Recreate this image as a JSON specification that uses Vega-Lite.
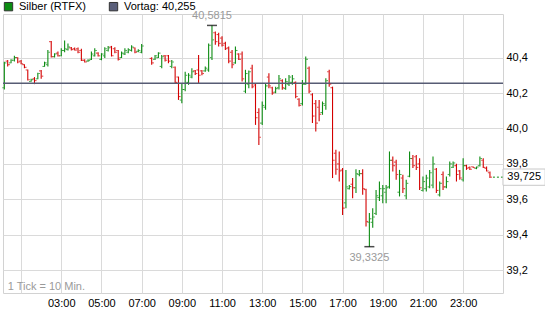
{
  "$schema": "https://vega.github.io/schema/vega-lite/v6.json",
  "width": 500,
  "height": 279,
  "autosize": "none",
  "padding": {"left": 3, "top": 14, "right": 42, "bottom": 34},
  "background": "white",
  "config": {
    "font": "Liberation Sans",
    "view": {"stroke": "#d2d2d2"},
    "axis": {"labelFont": "Liberation Sans", "labelFontSize": 11, "labelColor": "#000000", "gridColor": "#dadada", "gridWidth": 1, "domain": false, "ticks": false}
  },
  "datasets": {
    "bars": [
      {"t":10,"o":40.23,"h":40.377,"l":40.22,"c":40.37},
      {"t":20,"o":40.38,"h":40.387,"l":40.349,"c":40.36},
      {"t":30,"o":40.37,"h":40.39,"l":40.368,"c":40.385},
      {"t":40,"o":40.385,"h":40.41,"l":40.378,"c":40.40},
      {"t":50,"o":40.40,"h":40.402,"l":40.368,"c":40.375},
      {"t":60,"o":40.38,"h":40.387,"l":40.362,"c":40.365},
      {"t":70,"o":40.36,"h":40.362,"l":40.34,"c":40.345},
      {"t":80,"o":40.33,"h":40.332,"l":40.27,"c":40.275},
      {"t":90,"o":40.265,"h":40.28,"l":40.263,"c":40.275},
      {"t":100,"o":40.28,"h":40.29,"l":40.25,"c":40.27},
      {"t":110,"o":40.28,"h":40.315,"l":40.278,"c":40.31},
      {"t":120,"o":40.325,"h":40.33,"l":40.28,"c":40.295},
      {"t":130,"o":40.35,"h":40.377,"l":40.348,"c":40.37},
      {"t":140,"o":40.36,"h":40.443,"l":40.35,"c":40.43},
      {"t":150,"o":40.49,"h":40.494,"l":40.40,"c":40.405},
      {"t":160,"o":40.405,"h":40.425,"l":40.40,"c":40.42},
      {"t":170,"o":40.425,"h":40.434,"l":40.406,"c":40.41},
      {"t":180,"o":40.41,"h":40.453,"l":40.408,"c":40.44},
      {"t":190,"o":40.44,"h":40.496,"l":40.43,"c":40.45},
      {"t":200,"o":40.445,"h":40.48,"l":40.44,"c":40.46},
      {"t":210,"o":40.455,"h":40.46,"l":40.44,"c":40.445},
      {"t":220,"o":40.45,"h":40.457,"l":40.44,"c":40.442},
      {"t":230,"o":40.45,"h":40.457,"l":40.425,"c":40.43},
      {"t":240,"o":40.44,"h":40.45,"l":40.38,"c":40.385},
      {"t":250,"o":40.385,"h":40.39,"l":40.372,"c":40.375},
      {"t":260,"o":40.38,"h":40.39,"l":40.376,"c":40.383},
      {"t":270,"o":40.39,"h":40.434,"l":40.387,"c":40.42},
      {"t":280,"o":40.41,"h":40.453,"l":40.406,"c":40.44},
      {"t":290,"o":40.425,"h":40.43,"l":40.406,"c":40.41},
      {"t":300,"o":40.39,"h":40.425,"l":40.385,"c":40.42},
      {"t":310,"o":40.41,"h":40.459,"l":40.397,"c":40.45},
      {"t":320,"o":40.44,"h":40.466,"l":40.434,"c":40.455},
      {"t":330,"o":40.46,"h":40.466,"l":40.406,"c":40.41},
      {"t":340,"o":40.45,"h":40.459,"l":40.425,"c":40.43},
      {"t":350,"o":40.44,"h":40.443,"l":40.383,"c":40.39},
      {"t":360,"o":40.40,"h":40.434,"l":40.397,"c":40.425},
      {"t":370,"o":40.42,"h":40.453,"l":40.415,"c":40.44},
      {"t":380,"o":40.43,"h":40.453,"l":40.425,"c":40.445},
      {"t":390,"o":40.44,"h":40.47,"l":40.434,"c":40.46},
      {"t":400,"o":40.455,"h":40.457,"l":40.425,"c":40.43},
      {"t":410,"o":40.435,"h":40.447,"l":40.43,"c":40.44},
      {"t":420,"o":40.43,"h":40.477,"l":40.425,"c":40.465},
      {"t":450,"o":40.395,"h":40.402,"l":40.359,"c":40.37},
      {"t":460,"o":40.39,"h":40.415,"l":40.387,"c":40.41},
      {"t":470,"o":40.40,"h":40.43,"l":40.397,"c":40.425},
      {"t":480,"o":40.35,"h":40.415,"l":40.34,"c":40.405},
      {"t":490,"o":40.41,"h":40.415,"l":40.378,"c":40.385},
      {"t":500,"o":40.41,"h":40.415,"l":40.368,"c":40.38},
      {"t":510,"o":40.35,"h":40.387,"l":40.34,"c":40.375},
      {"t":520,"o":40.345,"h":40.349,"l":40.255,"c":40.26},
      {"t":530,"o":40.29,"h":40.293,"l":40.161,"c":40.18},
      {"t":540,"o":40.16,"h":40.255,"l":40.142,"c":40.22},
      {"t":550,"o":40.22,"h":40.32,"l":40.21,"c":40.30},
      {"t":560,"o":40.26,"h":40.312,"l":40.246,"c":40.30},
      {"t":570,"o":40.29,"h":40.34,"l":40.283,"c":40.32},
      {"t":580,"o":40.325,"h":40.33,"l":40.302,"c":40.31},
      {"t":590,"o":40.33,"h":40.415,"l":40.255,"c":40.30},
      {"t":600,"o":40.325,"h":40.33,"l":40.30,"c":40.31},
      {"t":610,"o":40.325,"h":40.349,"l":40.32,"c":40.34},
      {"t":620,"o":40.33,"h":40.48,"l":40.32,"c":40.47},
      {"t":630,"o":40.40,"h":40.5815,"l":40.387,"c":40.50},
      {"t":640,"o":40.54,"h":40.547,"l":40.472,"c":40.49},
      {"t":650,"o":40.53,"h":40.54,"l":40.462,"c":40.48},
      {"t":660,"o":40.51,"h":40.52,"l":40.462,"c":40.47},
      {"t":670,"o":40.48,"h":40.49,"l":40.443,"c":40.45},
      {"t":680,"o":40.455,"h":40.462,"l":40.368,"c":40.38},
      {"t":690,"o":40.43,"h":40.443,"l":40.34,"c":40.36},
      {"t":700,"o":40.37,"h":40.462,"l":40.365,"c":40.44},
      {"t":710,"o":40.42,"h":40.425,"l":40.387,"c":40.39},
      {"t":720,"o":40.42,"h":40.434,"l":40.265,"c":40.28},
      {"t":730,"o":40.21,"h":40.331,"l":40.199,"c":40.31},
      {"t":740,"o":40.25,"h":40.327,"l":40.227,"c":40.32},
      {"t":750,"o":40.34,"h":40.359,"l":40.227,"c":40.235},
      {"t":760,"o":40.245,"h":40.255,"l":40.02,"c":40.06},
      {"t":770,"o":40.09,"h":40.114,"l":39.907,"c":39.95},
      {"t":780,"o":40.03,"h":40.152,"l":40.02,"c":40.13},
      {"t":790,"o":40.12,"h":40.255,"l":40.105,"c":40.24},
      {"t":800,"o":40.29,"h":40.312,"l":40.227,"c":40.24},
      {"t":810,"o":40.23,"h":40.236,"l":40.19,"c":40.20},
      {"t":820,"o":40.205,"h":40.236,"l":40.199,"c":40.225},
      {"t":830,"o":40.23,"h":40.302,"l":40.22,"c":40.28},
      {"t":840,"o":40.27,"h":40.278,"l":40.218,"c":40.23},
      {"t":850,"o":40.225,"h":40.284,"l":40.218,"c":40.265},
      {"t":860,"o":40.25,"h":40.302,"l":40.24,"c":40.29},
      {"t":870,"o":40.26,"h":40.302,"l":40.246,"c":40.28},
      {"t":880,"o":40.26,"h":40.265,"l":40.171,"c":40.18},
      {"t":890,"o":40.165,"h":40.171,"l":40.124,"c":40.13},
      {"t":900,"o":40.14,"h":40.274,"l":40.13,"c":40.25},
      {"t":910,"o":40.25,"h":40.406,"l":40.246,"c":40.39},
      {"t":920,"o":40.34,"h":40.35,"l":40.199,"c":40.21},
      {"t":930,"o":40.19,"h":40.199,"l":40.03,"c":40.07},
      {"t":940,"o":40.14,"h":40.161,"l":39.983,"c":40.03},
      {"t":950,"o":40.12,"h":40.161,"l":40.04,"c":40.08},
      {"t":960,"o":40.09,"h":40.152,"l":40.077,"c":40.14},
      {"t":970,"o":40.13,"h":40.284,"l":40.105,"c":40.27},
      {"t":980,"o":40.32,"h":40.331,"l":40.236,"c":40.25},
      {"t":990,"o":40.23,"h":40.236,"l":39.72,"c":39.82},
      {"t":1000,"o":39.86,"h":39.879,"l":39.738,"c":39.77},
      {"t":1010,"o":39.80,"h":39.87,"l":39.70,"c":39.76},
      {"t":1020,"o":39.765,"h":39.776,"l":39.512,"c":39.55},
      {"t":1030,"o":39.58,"h":39.766,"l":39.55,"c":39.67},
      {"t":1040,"o":39.66,"h":39.68,"l":39.655,"c":39.672},
      {"t":1050,"o":39.685,"h":39.72,"l":39.606,"c":39.665},
      {"t":1060,"o":39.665,"h":39.77,"l":39.635,"c":39.745},
      {"t":1070,"o":39.74,"h":39.766,"l":39.73,"c":39.745},
      {"t":1080,"o":39.745,"h":39.77,"l":39.625,"c":39.66},
      {"t":1090,"o":39.655,"h":39.66,"l":39.447,"c":39.475},
      {"t":1100,"o":39.47,"h":39.522,"l":39.3325,"c":39.49},
      {"t":1110,"o":39.47,"h":39.55,"l":39.44,"c":39.50},
      {"t":1120,"o":39.52,"h":39.653,"l":39.512,"c":39.62},
      {"t":1130,"o":39.61,"h":39.70,"l":39.59,"c":39.66},
      {"t":1140,"o":39.62,"h":39.68,"l":39.578,"c":39.66},
      {"t":1150,"o":39.64,"h":39.68,"l":39.578,"c":39.665},
      {"t":1160,"o":39.67,"h":39.87,"l":39.66,"c":39.82},
      {"t":1170,"o":39.82,"h":39.842,"l":39.757,"c":39.79},
      {"t":1180,"o":39.81,"h":39.823,"l":39.71,"c":39.74},
      {"t":1190,"o":39.64,"h":39.766,"l":39.616,"c":39.74},
      {"t":1200,"o":39.72,"h":39.738,"l":39.635,"c":39.66},
      {"t":1210,"o":39.62,"h":39.71,"l":39.60,"c":39.69},
      {"t":1220,"o":39.73,"h":39.87,"l":39.725,"c":39.83},
      {"t":1230,"o":39.83,"h":39.85,"l":39.776,"c":39.79},
      {"t":1240,"o":39.84,"h":39.85,"l":39.766,"c":39.78},
      {"t":1250,"o":39.80,"h":39.832,"l":39.653,"c":39.665},
      {"t":1260,"o":39.65,"h":39.729,"l":39.644,"c":39.70},
      {"t":1270,"o":39.66,"h":39.738,"l":39.644,"c":39.72},
      {"t":1280,"o":39.67,"h":39.766,"l":39.663,"c":39.75},
      {"t":1290,"o":39.68,"h":39.842,"l":39.663,"c":39.80},
      {"t":1300,"o":39.77,"h":39.776,"l":39.635,"c":39.65},
      {"t":1310,"o":39.625,"h":39.70,"l":39.616,"c":39.69},
      {"t":1320,"o":39.74,"h":39.757,"l":39.653,"c":39.67},
      {"t":1330,"o":39.67,"h":39.729,"l":39.663,"c":39.70},
      {"t":1340,"o":39.74,"h":39.813,"l":39.729,"c":39.80},
      {"t":1350,"o":39.78,"h":39.813,"l":39.776,"c":39.805},
      {"t":1360,"o":39.79,"h":39.80,"l":39.70,"c":39.74},
      {"t":1370,"o":39.76,"h":39.766,"l":39.71,"c":39.72},
      {"t":1380,"o":39.71,"h":39.832,"l":39.70,"c":39.79},
      {"t":1390,"o":39.79,"h":39.795,"l":39.766,"c":39.775},
      {"t":1400,"o":39.78,"h":39.785,"l":39.766,"c":39.77},
      {"t":1410,"o":39.784,"h":39.785,"l":39.776,"c":39.778},
      {"t":1420,"o":39.775,"h":39.785,"l":39.77,"c":39.782},
      {"t":1430,"o":39.79,"h":39.842,"l":39.785,"c":39.83},
      {"t":1440,"o":39.82,"h":39.832,"l":39.776,"c":39.78},
      {"t":1450,"o":39.775,"h":39.785,"l":39.757,"c":39.76},
      {"t":1460,"o":39.75,"h":39.757,"l":39.72,"c":39.725}
    ],
    "ext": [
      {"kind": "max", "t": 630, "v": 40.5815, "label": "40,5815"},
      {"kind": "min", "t": 1100, "v": 39.3325, "label": "39,3325"}
    ],
    "last": [
      {"t": 1460, "v": 39.725, "label": "39,725"}
    ]
  },
  "layer": [
    {
      "data": {"name": "bars"},
      "mark": {"type": "rule", "strokeWidth": 1.1},
      "encoding": {
        "x": {"field": "t", "type": "quantitative", "title": null, "scale": {"domain": [6, 1499], "nice": false, "zero": false},
          "axis": {"values": [60,120,180,240,300,360,420,480,540,600,660,720,780,840,900,960,1020,1080,1140,1200,1260,1320,1380,1440], "grid": true, "labelPadding": 4, "labelOverlap": false, "labelFlush": false,
            "labelExpr": "(datum.value % 120 == 60 && datum.value >= 180) ? ((datum.value < 600 ? '0' : '') + floor(datum.value / 60) + ':00') : ''"}},
        "y": {"field": "l", "type": "quantitative", "title": null, "scale": {"domain": [39.071, 40.646], "nice": false, "zero": false},
          "axis": {"orient": "right", "values": [39.2, 39.4, 39.6, 39.8, 40.0, 40.2, 40.4], "grid": true, "labelPadding": 3, "labelExpr": "replace(format(datum.value, '.1f'), '.', ',')"}},
        "y2": {"field": "h"},
        "color": {"condition": {"test": "datum.c >= datum.o", "value": "#0c8c12"}, "value": "#d40000"}
      }
    },
    {
      "data": {"values": [{"v": 40.255}]},
      "mark": {"type": "rule", "color": "#575c74", "strokeWidth": 1.6},
      "encoding": {
        "y": {"field": "v", "type": "quantitative", "title": null}
      }
    },
    {
      "data": {"name": "bars"},
      "mark": {"type": "tick", "orient": "horizontal", "size": 1.6, "thickness": 1.1, "xOffset": -1.3},
      "encoding": {
        "x": {"field": "t", "type": "quantitative", "title": null},
        "y": {"field": "o", "type": "quantitative", "title": null},
        "color": {"condition": {"test": "datum.c >= datum.o", "value": "#0c8c12"}, "value": "#d40000"}
      }
    },
    {
      "data": {"name": "bars"},
      "mark": {"type": "tick", "orient": "horizontal", "size": 1.6, "thickness": 1.1, "xOffset": 1.3},
      "encoding": {
        "x": {"field": "t", "type": "quantitative", "title": null},
        "y": {"field": "c", "type": "quantitative", "title": null},
        "color": {"condition": {"test": "datum.c >= datum.o", "value": "#0c8c12"}, "value": "#d40000"}
      }
    },
    {
      "data": {"name": "ext"},
      "mark": {"type": "tick", "orient": "horizontal", "size": 10, "thickness": 1.5, "color": "#000000"},
      "encoding": {
        "x": {"field": "t", "type": "quantitative", "title": null},
        "y": {"field": "v", "type": "quantitative", "title": null}
      }
    },
    {
      "data": {"name": "ext"},
      "transform": [{"filter": "datum.kind == 'max'"}],
      "mark": {"type": "text", "baseline": "bottom", "dy": -4, "fontSize": 11, "color": "#9a9a9a", "font": "Liberation Sans"},
      "encoding": {
        "x": {"field": "t", "type": "quantitative", "title": null},
        "y": {"field": "v", "type": "quantitative", "title": null},
        "text": {"field": "label"}
      }
    },
    {
      "data": {"name": "ext"},
      "transform": [{"filter": "datum.kind == 'min'"}],
      "mark": {"type": "text", "baseline": "top", "dy": 5, "fontSize": 11, "color": "#9a9a9a", "font": "Liberation Sans"},
      "encoding": {
        "x": {"field": "t", "type": "quantitative", "title": null},
        "y": {"field": "v", "type": "quantitative", "title": null},
        "text": {"field": "label"}
      }
    },
    {
      "data": {"name": "last"},
      "mark": {"type": "rule", "color": "#0c8c12", "strokeWidth": 1, "strokeDash": [2, 2], "xOffset": 3},
      "encoding": {
        "x": {"field": "t", "type": "quantitative", "title": null},
        "x2": {"datum": 1499},
        "y": {"field": "v", "type": "quantitative", "title": null}
      }
    },
    {
      "data": {"name": "last"},
      "mark": {"type": "rect", "fill": "#ffffff", "stroke": "#c8c8c8", "strokeWidth": 1, "clip": false},
      "encoding": {
        "x": {"datum": 1499, "type": "quantitative", "title": null},
        "x2": {"datum": 1625},
        "y": {"datum": 39.771, "type": "quantitative", "title": null},
        "y2": {"datum": 39.679}
      }
    },
    {
      "data": {"name": "last"},
      "mark": {"type": "text", "align": "left", "baseline": "middle", "fontSize": 11, "color": "#000000", "font": "Liberation Sans", "clip": false},
      "encoding": {
        "x": {"datum": 1512, "type": "quantitative", "title": null},
        "y": {"field": "v", "type": "quantitative", "title": null},
        "text": {"field": "label"}
      }
    },
    {
      "data": {"values": [{"note": "1 Tick = 10 Min."}]},
      "mark": {"type": "text", "align": "left", "baseline": "middle", "fontSize": 11, "color": "#9a9a9a", "font": "Liberation Sans"},
      "encoding": {
        "x": {"datum": 20, "type": "quantitative", "title": null},
        "y": {"datum": 39.107, "type": "quantitative", "title": null},
        "text": {"field": "note"}
      }
    },
    {
      "data": {"values": [{"s": "Silber (RTFX)"}, {"s": "Vortag: 40,255"}]},
      "mark": {"type": "point", "shape": "square", "filled": true, "opacity": 0},
      "encoding": {
        "fill": {"field": "s", "type": "nominal",
          "scale": {"domain": ["Silber (RTFX)", "Vortag: 40,255"], "range": ["#0c8c12", "#5a5f7a"]},
          "legend": {"title": null, "orient": "none", "legendX": 0, "legendY": -13, "direction": "horizontal", "columns": 2,
            "symbolType": "square", "symbolSize": 70, "symbolOpacity": 1, "symbolStrokeColor": "#333333", "symbolStrokeWidth": 1,
            "labelFont": "Liberation Sans", "labelFontSize": 11, "labelColor": "#000000", "labelOffset": 5, "columnPadding": 20, "padding": 0}}
      }
    }
  ]
}
